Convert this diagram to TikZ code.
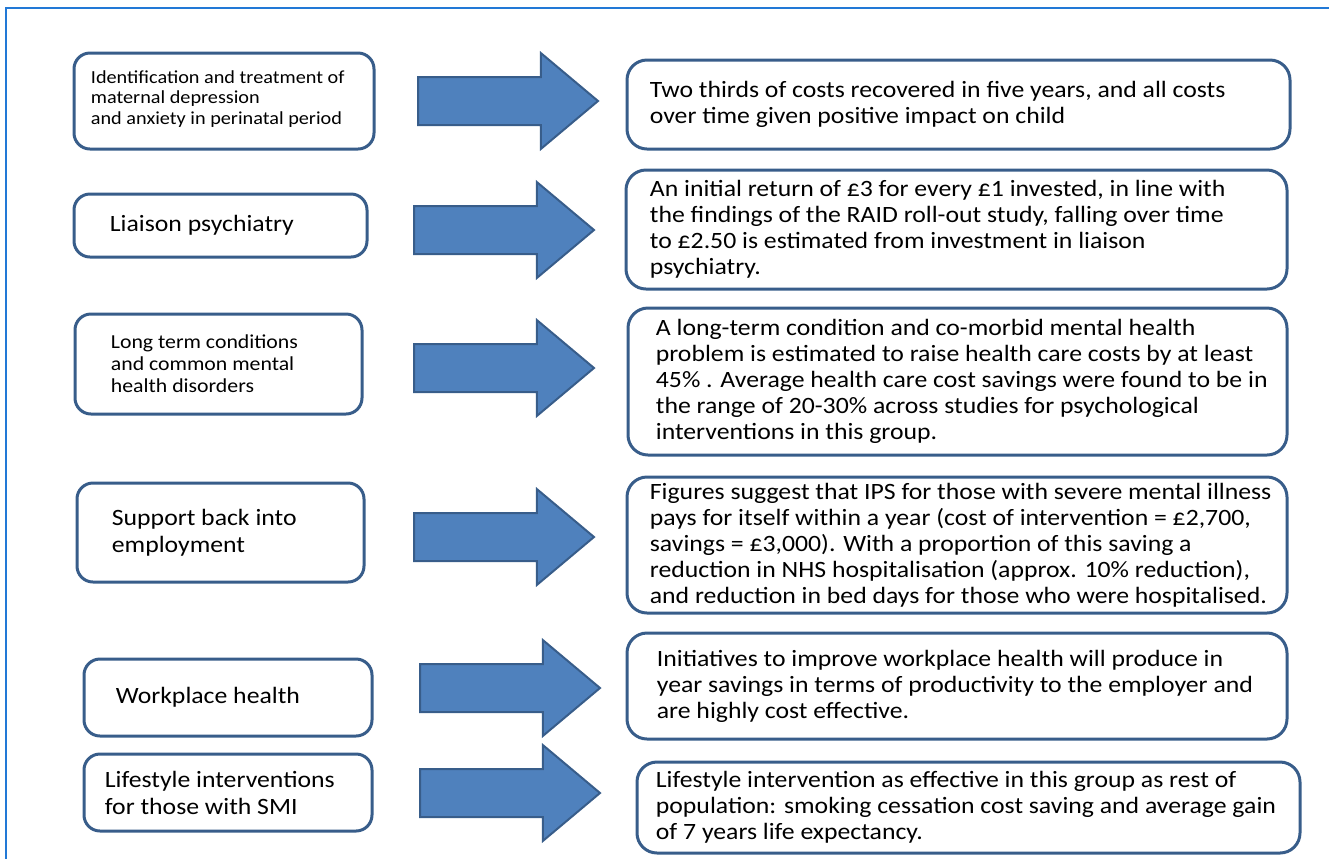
\documentclass[tikz,border=0pt]{standalone}
\usepackage{fontspec}
\setmainfont{Carlito}[FakeStretch=1.1]
\usetikzlibrary{positioning,shapes.arrows}
\definecolor{boxline}{HTML}{385D8A}
\definecolor{arrowfill}{HTML}{4F81BD}
\definecolor{frameblue}{HTML}{2279D6}

\begin{document}
\begin{tikzpicture}[x=0.5pt, y=-0.5pt,
    leftbox/.style={draw=boxline, line width=1.5pt, rounded corners=8pt, fill=white, inner sep=0pt},
    rightbox/.style={draw=boxline, line width=1.5pt, rounded corners=10pt, fill=white, inner sep=0pt},
    lefttext/.style={align=left, inner sep=0pt, font=\fontsize{11.7}{13.5}\selectfont},
    righttext/.style={align=left, inner sep=0pt, font=\fontsize{11.7}{13}\selectfont},
    bigarrow/.style={single arrow, draw=boxline, fill=arrowfill, line width=1pt, inner xsep=0pt, inner ysep=11.5pt,
      minimum height=90pt, single arrow head extend=12pt, single arrow tip angle=80, anchor=tail}]
  \useasboundingbox (0,0) rectangle (1329,859);
  \draw[frameblue, line width=1pt] (1329,8) -- (6,8) -- (6,859);

  % left column
  \node[leftbox, minimum width=150pt, minimum height=48pt] (perinatal) at (224,101) {};
  \node[lefttext, font=\fontsize{9.2}{10.25}\selectfont, right=9pt of perinatal.west, yshift=1pt] (perinataltxt)
    {Identification and treatment of\\maternal depression\\and anxiety in perinatal period};
  \node[leftbox, minimum width=146.5pt, minimum height=31.5pt] (liaison) at (220.5,225.5) {};
  \node[lefttext, right=18.5pt of liaison.west] (liaisontxt) {Liaison psychiatry};
  \node[leftbox, minimum width=143.5pt, minimum height=50pt] (ltc) at (218.5,364) {};
  \node[lefttext, font=\fontsize{9.9}{11}\selectfont, right=18.5pt of ltc.west] (ltctxt)
    {Long term conditions\\and common mental\\health disorders};
  \node[leftbox, minimum width=143.5pt, minimum height=49.5pt] (employ) at (220.5,532.5) {};
  \node[lefttext, right=18pt of employ.west] (employtxt) {Support back into\\employment};
  \node[leftbox, minimum width=144pt, minimum height=38.5pt] (workplace) at (228,697.5) {};
  \node[lefttext, right=16.5pt of workplace.west] (workplacetxt) {Workplace health};
  \node[leftbox, minimum width=144pt, minimum height=38.5pt] (lifestyle) at (228,792.5) {};
  \node[lefttext, right=11pt of lifestyle.west] (lifestyletxt) {Lifestyle interventions\\for those with SMI};

  % arrows
  \node[bigarrow] (arrperinatal) at (417,101) {};
  \node[bigarrow] (arrliaison) at (413,230) {};
  \node[bigarrow] (arrltc) at (413,368) {};
  \node[bigarrow] (arremploy) at (413,537) {};
  \node[bigarrow] (arrworkplace) at (419,688) {};
  \node[bigarrow] (arrlifestyle) at (419,793) {};

  % right column
  \node[rightbox, minimum width=331.5pt, minimum height=44.5pt] (perinatalres) at (958.5,104.5) {};
  \node[righttext, right=12pt of perinatalres.west] (perinatalrestxt)
    {Two thirds of costs recovered in five years, and all costs\\over time given positive impact on child};
  \node[rightbox, minimum width=330.5pt, minimum height=59.5pt] (liaisonres) at (956.5,229.5) {};
  \node[righttext, right=12.5pt of liaisonres.west] (liaisonrestxt)
    {An initial return of £3 for every £1 invested, in line with\\the findings of the RAID roll-out study, falling over time\\to £2.50 is estimated from investment in liaison\\psychiatry.};
  \node[rightbox, minimum width=329.5pt, minimum height=73.5pt] (ltcres) at (957.5,381.5) {};
  \node[righttext, right=14.5pt of ltcres.west] (ltcrestxt)
    {A long-term condition and co-morbid mental health\\problem is estimated to raise health care costs by at least\\45\% . Average health care cost savings were found to be in\\the range of 20-30\% across studies for psychological\\interventions in this group.};
  \node[rightbox, minimum width=330pt, minimum height=68pt] (employres) at (957,545) {};
  \node[righttext, right=12pt of employres.west] (employrestxt)
    {Figures suggest that IPS for those with severe mental illness\\pays for itself within a year (cost of intervention = £2,700,\\savings = £3,000). With a proportion of this saving a\\reduction in NHS hospitalisation (approx. 10\% reduction),\\and reduction in bed days for those who were hospitalised.};
  \node[rightbox, minimum width=330pt, minimum height=53pt] (workplaceres) at (957,686) {};
  \node[righttext, right=15.5pt of workplaceres.west] (workplacerestxt)
    {Initiatives to improve workplace health will produce in\\year savings in terms of productivity to the employer and\\are highly cost effective.};
  \node[rightbox, minimum width=331.5pt, minimum height=45.5pt] (lifestyleres) at (968.5,807.5) {};
  \node[righttext, right=10pt of lifestyleres.west] (lifestylerestxt)
    {Lifestyle intervention as effective in this group as rest of\\population: smoking cessation cost saving and average gain\\of 7 years life expectancy.};
\end{tikzpicture}
\end{document}
